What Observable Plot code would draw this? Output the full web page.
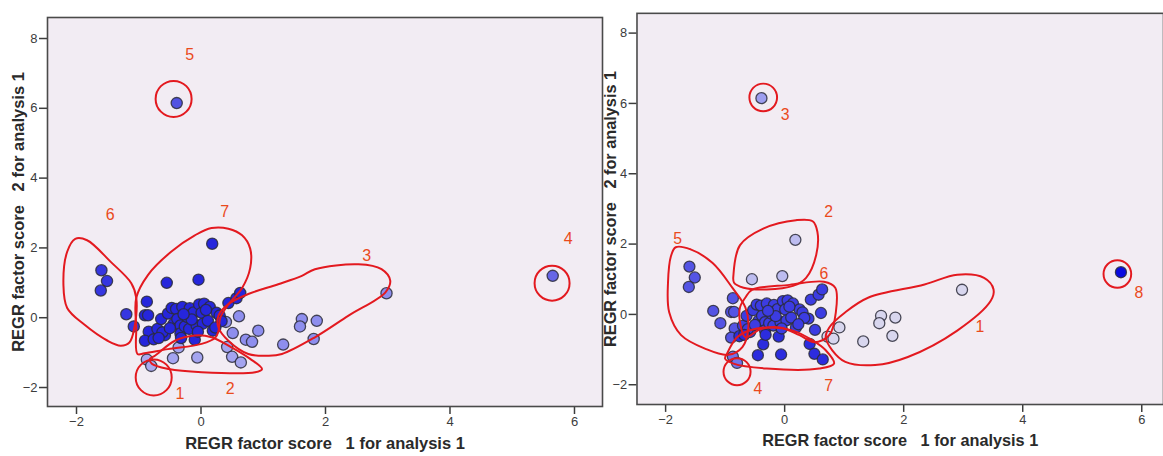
<!DOCTYPE html>
<html>
<head>
<meta charset="utf-8">
<script src="https://cdn.jsdelivr.net/npm/d3@7"></script>
<script src="https://cdn.jsdelivr.net/npm/@observablehq/plot@0.6"></script>
<style>
  html, body { margin: 0; padding: 0; background: #ffffff; overflow: hidden; }
  #wrap { position: relative; width: 1163px; height: 456px; overflow: hidden; }
  #left, #right { position: absolute; top: 0; }
  #left { left: 0; }
  #right { left: 595px; }
  svg { background: transparent !important; }
</style>
</head>
<body>
<div id="wrap"><div id="left"></div><div id="right"></div></div>
<script>
// ---- data: factor scores of each case ----
const scoreX = [-0.39, 5.65, 2.98, 1.62, 1.59, 1.86, 1.81, 1.32, 0.92, 0.72, 0.82, 0.61, 0.51, 0.40,
  0.18, -0.55, -0.04, -1.60, -1.51, -1.61, -1.20, -1.08, -0.87, -0.90, -0.85, -0.84, -0.90,
  -0.36, -0.45, -0.06, 0.42, 0.50, 0.64, -0.87, -0.80,
  -0.76, -0.70, -0.64, -0.58, -0.53, -0.47, -0.44, -0.40, -0.38, -0.33, -0.30, -0.33, -0.32, -0.26,
  -0.22, -0.18, -0.19, -0.12, -0.10, -0.07, -0.03, 0.01, 0.03, 0.05, 0.11, 0.14, 0.19, 0.25, 0.30,
  0.33, 0.44, 0.57, 0.63, -0.62, -0.50, -0.15, -0.28, 0.08, -0.05, 0.23, -0.68];
const scoreY = [6.15, 1.20, 0.70, -0.04, -0.25, -0.09, -0.61, -0.77, -0.37, -0.63, -0.69, 0.04, -0.44, -0.12,
  2.12, 1.00, 1.09, 1.36, 1.05, 0.78, 0.10, -0.25, 0.46, 0.07, 0.07, -0.40, -0.66,
  -0.85, -1.16, -1.14, -0.84, -1.12, -1.28, -1.20, -1.38,
  -0.62, -0.32, -0.04, -0.50, 0.12, 0.28, -0.18, 0.25, -0.04, -0.22, 0.31, -0.45, -0.58, -0.25,
  0.02, 0.27, -0.32, 0.15, -0.63, -0.22, 0.38, 0.14, -0.17, 0.40, -0.09, 0.31, -0.37, 0.14, 0.06,
  -0.10, 0.42, 0.56, 0.71, -0.42, -0.30, -0.05, 0.10, 0.22, -0.40, -0.28, -0.58];
// cluster membership, left solution (7 clusters) and right solution (8 clusters)
const clusterLeft = [5, 4, 3, 3, 3, 3, 3, 3, 3, 3, 3, 3, 3, 3,
  7, 7, 7, 6, 6, 6, 6, 6, 7, 7, 7, 7, 7,
  2, 2, 2, 2, 2, 2, 1, 1,
  7, 7, 7, 7, 7, 7, 7, 7, 7, 7, 7, 7, 7, 7,
  7, 7, 7, 7, 7, 7, 7, 7, 7, 7, 7, 7, 7, 7, 7,
  7, 7, 7, 7, 7, 7, 7, 7, 7, 7, 7, 7];
const clusterRight = [3, 8, 1, 1, 1, 1, 1, 1, 1, 1, 1, 6, 6, 6,
  2, 2, 2, 5, 5, 5, 5, 5, 5, 5, 5, 5, 5,
  7, 7, 7, 7, 7, 7, 4, 4,
  7, 6, 6, 6, 6, 6, 6, 6, 6, 6, 6, 6, 7, 6,
  6, 6, 6, 6, 7, 6, 6, 6, 6, 6, 6, 6, 6, 6, 6,
  6, 6, 6, 6, 6, 6, 6, 6, 6, 6, 6, 7];
const clusterColorsLeft = ["#aaaaf0", "#a4a4f0", "#8e8eee", "#6666e6", "#5252e2", "#3636e0", "#2626dc"];
const clusterColorsRight = ["#d8d6ee", "#bdbcf0", "#9e9ef0", "#7272ea", "#5454e4", "#3c3ce2", "#2c2cde", "#0a0ae0"];

// ---- hand-drawn cluster outlines (data units) ----
const leftLoop6 = [[-2.02, 2.26], [-1.83, 2.22], [-1.45, 1.60], [-1.12, 0.99], [-1.04, 0.57], [-1.07, -0.28],
  [-1.15, -0.71], [-1.29, -0.80], [-1.50, -0.66], [-1.88, -0.19], [-2.15, 0.28], [-2.21, 0.94], [-2.15, 1.89]];
const leftLoop7 = [[-1.02, -1.04], [-1.04, -0.28], [-1.04, 0.57], [-0.85, 1.23], [-0.48, 1.89], [-0.10, 2.36],
  [0.17, 2.57], [0.44, 2.55], [0.66, 2.36], [0.79, 1.98], [0.79, 1.42], [0.66, 0.85], [0.44, 0.38], [0.31, 0.0],
  [0.28, -0.38], [0.23, -0.57], [0.01, -0.75], [-0.53, -0.90], [-0.91, -1.02]];
const leftLoop3 = [[0.28, 0.06], [0.44, 0.39], [0.76, 0.68], [1.24, 0.96], [1.62, 1.20], [1.83, 1.39], [2.53, 1.53],
  [2.90, 1.39], [3.04, 1.06], [2.96, 0.72], [2.37, 0.06], [1.83, -0.56], [1.30, -1.04], [1.08, -1.09],
  [0.76, -1.04], [0.44, -0.66], [0.28, -0.28]];
const leftLoop2 = [[-0.74, -1.09], [-0.42, -0.66], [-0.10, -0.51], [0.17, -0.56], [0.49, -0.85], [0.79, -1.18],
  [0.98, -1.47], [0.87, -1.56], [0.01, -1.56], [-0.52, -1.47], [-0.79, -1.32], [-0.82, -1.18]];
const leftCircleX = [-0.44, 5.64, -0.76];
const leftCircleY = [6.27, 0.99, -1.71];
const leftCircleR = [18, 17.5, 18];
const leftLabelText = ["5", "6", "7", "3", "4", "1", "2"];
const leftLabelX = [-0.18, -1.46, 0.38, 2.66, 5.90, -0.34, 0.47];
const leftLabelY = [7.53, 2.96, 3.04, 1.77, 2.25, -2.18, -2.04];

const rightLoop5 = [[-1.83, 1.91], [-1.58, 1.85], [-1.21, 1.46], [-0.88, 0.76], [-0.66, 0.20], [-0.61, -0.37],
  [-0.71, -0.93], [-0.95, -1.15], [-1.33, -0.98], [-1.74, -0.59], [-1.94, 0.06], [-1.96, 0.90], [-1.91, 1.66]];
const rightLoop2 = [[-0.86, 1.13], [-0.75, 1.97], [-0.36, 2.44], [0.19, 2.68], [0.47, 2.65], [0.55, 2.35],
  [0.53, 1.69], [0.36, 1.04], [0.14, 0.81], [-0.30, 0.71], [-0.69, 0.76], [-0.85, 0.90]];
const rightLoop6 = [[-0.66, 0.48], [-0.55, 0.70], [0.08, 0.84], [0.66, 0.93], [0.85, 0.76], [0.86, 0.06],
  [0.75, -0.59], [0.50, -0.79], [0.25, -0.59], [-0.08, -0.37], [-0.41, -0.42], [-0.66, -0.65], [-0.75, -0.22], [-0.75, 0.20]];
const rightLoop7 = [[-0.97, -1.12], [-0.80, -0.65], [-0.58, -0.45], [-0.30, -0.37], [0.14, -0.46], [0.47, -0.74],
  [0.69, -1.02], [0.83, -1.40], [0.58, -1.54], [-0.30, -1.54], [-0.86, -1.40], [-1.00, -1.26]];
const rightLoop1 = [[0.75, -0.37], [1.02, 0.06], [1.41, 0.48], [2.35, 0.85], [2.90, 1.13], [3.35, 1.04], [3.51, 0.71],
  [3.46, 0.38], [2.90, -0.46], [2.07, -1.21], [1.52, -1.44], [1.02, -1.35], [0.80, -1.02], [0.69, -0.65]];
const rightCircleX = [-0.36, 5.59, -0.80];
const rightCircleY = [6.17, 1.15, -1.63];
const rightCircleR = [14, 14, 13.7];
const rightLabelText = ["3", "2", "5", "6", "4", "7", "1", "8"];
const rightLabelX = [0.01, 0.74, -1.80, 0.66, -0.45, 0.74, 3.28, 5.95];
const rightLabelY = [5.67, 2.91, 2.14, 1.15, -2.13, -2.03, -0.37, 0.62];

const xTicks = [-2, 0, 2, 4, 6];
const yTicks = [-2, 0, 2, 4, 6, 8];
const xTitle = "REGR factor score   1 for analysis 1";
const yTitle = "REGR factor score   2 for analysis 1";

// ---- drawing ----
const FONT = "Arial, 'Liberation Sans', sans-serif";
const BG = "#f2ecf3";
const RED = "#e3191f";
const LABEL_RED = "#ea4a1c";

function panel(cfg) {
  const pts = scoreX.map((x, i) => ({x, y: scoreY[i], c: cfg.clusters[i]}));
  const loops = cfg.loops.flatMap((loop, k) => loop.map(([x, y]) => ({x, y, k})));
  const circles = cfg.cx.map((x, i) => ({x, y: cfg.cy[i], r: cfg.cr[i]}));
  const labels = cfg.lt.map((t, i) => ({t, x: cfg.lx[i], y: cfg.ly[i]}));
  const nC = cfg.colors.length;
  return Plot.plot({
    width: cfg.width, height: 456,
    marginLeft: cfg.ml, marginRight: cfg.mr, marginTop: cfg.mt, marginBottom: cfg.mb,
    style: {background: "transparent", fontFamily: FONT, overflow: "visible"},
    x: {domain: cfg.xd, ticks: xTicks, label: null},
    y: {domain: cfg.yd, ticks: yTicks, label: null},
    r: {type: "identity"},
    color: {type: "ordinal", domain: d3.range(1, nC + 1), range: cfg.colors},
    marks: [
      Plot.frame({fill: BG, stroke: null}),
      Plot.dot(pts, {x: "x", y: "y", fill: "c", r: 5.6, stroke: "#2b2b3a", strokeWidth: 1.3, strokeOpacity: 0.85, fillOpacity: 1}),
      Plot.line(loops, {x: "x", y: "y", z: "k", curve: "catmull-rom-closed", stroke: RED, strokeWidth: 2}),
      Plot.dot(circles, {x: "x", y: "y", r: "r", stroke: RED, strokeWidth: 2, fill: "none"}),
      Plot.text(labels, {x: "x", y: "y", text: "t", fill: LABEL_RED, fontSize: 16, fontFamily: FONT}),
      Plot.axisX({ticks: xTicks, tickSize: 8, tickPadding: 2, fontSize: 13, color: "#3c3c3c", strokeWidth: 1.5, label: null}),
      Plot.axisY({ticks: yTicks, tickSize: 8, tickPadding: 2, fontSize: 13, color: "#3c3c3c", strokeWidth: 1.5, label: null}),
      Plot.frame({stroke: "#4a4a4a", strokeWidth: 1.6}),
      Plot.text([xTitle], {frameAnchor: "bottom", dy: 37, lineAnchor: "middle", textAnchor: "middle", fontSize: 16.5, fontWeight: "bold", fill: "#2a2a2a", fontFamily: FONT}),
      Plot.text([yTitle], {frameAnchor: "left", dx: cfg.ydx, rotate: -90, lineAnchor: "middle", textAnchor: "middle", fontSize: 16.5, fontWeight: "bold", fill: "#2a2a2a", fontFamily: FONT})
    ]
  });
}

const left = panel({
  width: 605, ml: 47, mr: 3, mt: 17, mb: 50,
  xd: [-2.466, 6.45], yd: [-2.544, 8.602],
  clusters: clusterLeft, colors: clusterColorsLeft,
  loops: [leftLoop6, leftLoop7, leftLoop3, leftLoop2],
  cx: leftCircleX, cy: leftCircleY, cr: leftCircleR,
  lt: leftLabelText, lx: leftLabelX, ly: leftLabelY, ydx: -28.5
});
const right = panel({
  width: 575, ml: 42, mr: 0, mt: 13, mb: 47,
  xd: [-2.481, 6.365], yd: [-2.562, 8.562],
  clusters: clusterRight, colors: clusterColorsRight,
  loops: [rightLoop5, rightLoop2, rightLoop6, rightLoop7, rightLoop1],
  cx: rightCircleX, cy: rightCircleY, cr: rightCircleR,
  lt: rightLabelText, lx: rightLabelX, ly: rightLabelY, ydx: -26.5
});
document.getElementById("left").append(left);
document.getElementById("right").append(right);
document.querySelectorAll("svg text").forEach(t => t.style.whiteSpace = "pre");
</script>
</body>
</html>
